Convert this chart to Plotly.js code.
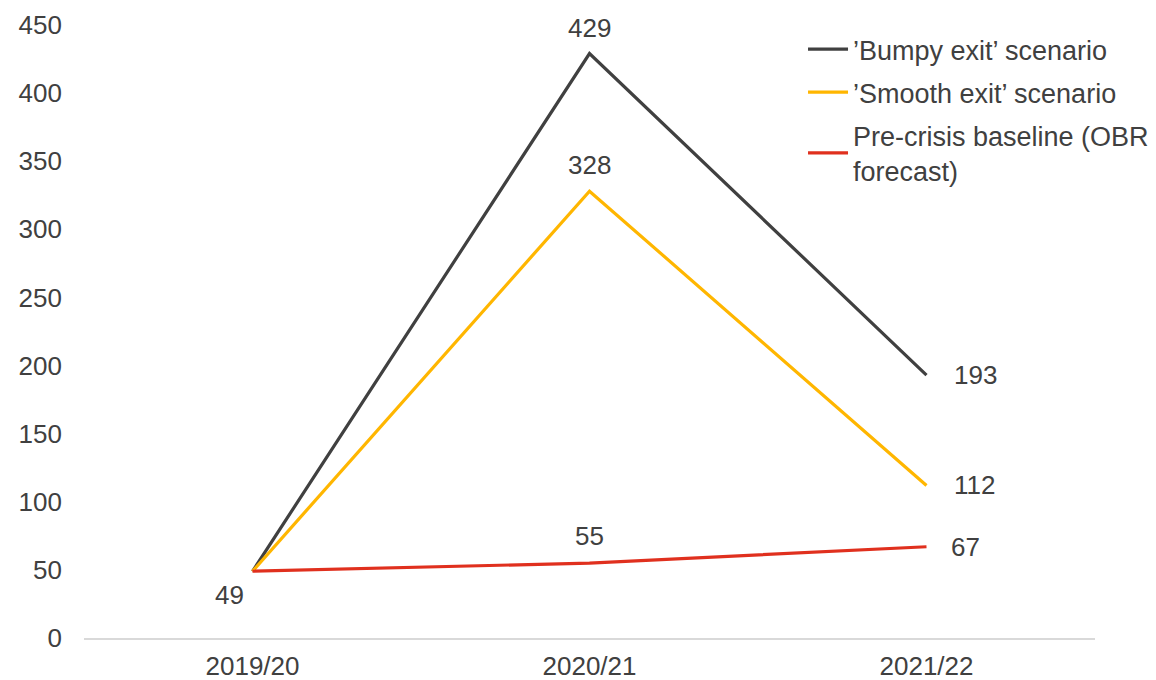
<!DOCTYPE html>
<html>
<head>
<meta charset="utf-8">
<script src="https://cdn.plot.ly/plotly-3.0.1.min.js"></script>
<style>
  html, body { margin: 0; padding: 0; background: #ffffff; }
  #chart { width: 1156px; height: 680px; }
</style>
</head>
<body>
<div id="chart"></div>
<script>
// Fiscal years on the x axis
const years = ['2019/20', '2020/21', '2021/22'];

// Series values
const bumpyExit = [49, 429, 193];
const smoothExit = [49, 328, 112];
const preCrisis = [49, 55, 67];

// Series names
const seriesNames = [
  '\u2019Bumpy exit\u2019 scenario',
  '\u2019Smooth exit\u2019 scenario',
  'Pre-crisis baseline (OBR<br>forecast)'
];

const textColor = '#404040';
const fontFamily = 'Arial, "Liberation Sans", sans-serif';

const traces = [
  { y: bumpyExit, name: seriesNames[0], color: '#404040' },
  { y: smoothExit, name: seriesNames[1], color: '#FFB600' },
  { y: preCrisis, name: seriesNames[2], color: '#E0301E' }
].map((s, k) => ({
  type: 'scatter',
  mode: 'lines',
  x: years,
  y: s.y,
  name: s.name,
  legendgroup: 'g' + k,
  line: { color: s.color, width: 3.2 },
  hoverinfo: 'x+y+name'
}));

// Value labels: [series values, point index, xshift, yshift, xanchor]
const labelSpecs = [
  [preCrisis, 0, -23, -24, 'center'],
  [bumpyExit, 1, 0, 26, 'center'],
  [smoothExit, 1, 0, 26, 'center'],
  [preCrisis, 1, 0, 27, 'center'],
  [bumpyExit, 2, 25, 0, 'left'],
  [smoothExit, 2, 25, 0, 'left'],
  [preCrisis, 2, 22, 0, 'left']
];

const annotations = labelSpecs.map(([vals, i, dx, dy, anchor]) => ({
  x: years[i],
  y: vals[i],
  xref: 'x',
  yref: 'y',
  text: String(vals[i]),
  showarrow: false,
  xanchor: anchor,
  yanchor: 'middle',
  xshift: dx,
  yshift: dy,
  font: { family: fontFamily, size: 26, color: textColor }
}));

const layout = {
  width: 1156,
  height: 680,
  margin: { l: 84, r: 61, t: 25, b: 42, autoexpand: false },
  paper_bgcolor: '#ffffff',
  plot_bgcolor: '#ffffff',
  font: { family: fontFamily, size: 26, color: textColor },
  showlegend: true,
  legend: {
    x: 0.7112,
    y: 1.0,
    xanchor: 'left',
    yanchor: 'top',
    bgcolor: 'rgba(0,0,0,0)',
    font: { family: fontFamily, size: 27, color: textColor },
    tracegroupgap: 5,
    itemwidth: 40
  },
  xaxis: {
    type: 'category',
    range: [-0.5, 2.5],
    showgrid: false,
    zeroline: false,
    showline: true,
    linecolor: '#d9d9d9',
    linewidth: 2,
    ticks: '',
    ticklabelstandoff: 4,
    tickfont: { family: fontFamily, size: 26, color: textColor },
    fixedrange: true
  },
  yaxis: {
    range: [0, 450],
    dtick: 50,
    tick0: 0,
    showgrid: false,
    zeroline: false,
    showline: false,
    ticks: '',
    ticklabelstandoff: 21,
    tickfont: { family: fontFamily, size: 26, color: textColor },
    fixedrange: true
  },
  annotations: annotations
};

Plotly.newPlot('chart', traces, layout, { displayModeBar: false, staticPlot: true });
</script>
</body>
</html>
